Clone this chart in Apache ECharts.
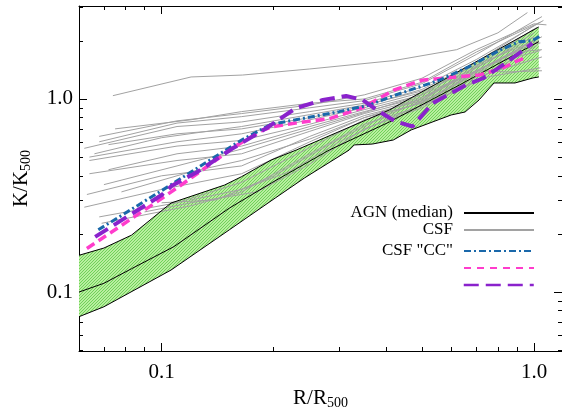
<!DOCTYPE html>
<html><head><meta charset="utf-8">
<script src="https://cdn.jsdelivr.net/npm/echarts@6/dist/echarts.min.js"></script>
<style>html,body{margin:0;padding:0;background:#fff}#c{width:562px;height:415px}</style>
</head><body><div id="c"></div>
<script>
// ---------- data (real values, R/R500 vs K/K500) ----------
const xTickMajor = [0.1, 1.0];
const xTickMinor = [0.07, 0.08, 0.09, 0.2, 0.3, 0.4, 0.5, 0.6, 0.7, 0.8, 0.9];
const yTickMajor = [0.1, 1.0];
const yTickMinor = [0.05, 0.06, 0.07, 0.08, 0.09, 0.2, 0.3, 0.4, 0.5, 0.6, 0.7, 0.8, 0.9, 2, 3];
const tickLabels = ['0.1', '1.0'];
const xRange = [0.06, 1.189];
const yRange = [0.0495, 3.03];

const agnUpper = [[0.06,0.155],[0.07,0.169],[0.083,0.197],[0.106,0.289],[0.1475,0.358],[0.164,0.396],[0.197,0.483],[0.23,0.544],[0.409,0.877],[0.649,1.44],[1.03,2.36]];
const agnMedian = [[0.06,0.100],[0.07,0.111],[0.083,0.132],[0.108,0.172],[0.152,0.272],[0.197,0.367],[0.282,0.544],[0.409,0.76],[0.63,1.18],[1.03,1.98]];
const agnLower = [[0.06,0.0745],[0.07,0.0839],[0.106,0.130],[0.152,0.210],[0.202,0.307],[0.242,0.390],[0.319,0.544],[0.329,0.578],[0.368,0.584],[0.419,0.613],[0.468,0.691],[0.599,0.826],[0.653,0.856],[0.712,0.988],[0.781,1.21],[0.889,1.21],[0.994,1.285],[1.03,1.30]];

const csfProfiles = [
  [[0.074,1.04],[0.12,1.30],[0.165,1.33],[0.25,1.43],[0.42,1.58],[0.62,1.80],[0.80,2.20],[0.96,2.80]],
  [[0.075,0.70],[0.12,0.78],[0.164,0.86],[0.25,0.95],[0.35,1.0],[0.5,1.22],[0.7,1.75],[1.04,2.5]],
  [[0.068,0.64],[0.11,0.77],[0.164,0.84],[0.25,0.93],[0.35,1.05],[0.5,1.28],[0.7,1.80],[1.0,2.45],[1.08,2.42]],
  [[0.068,0.60],[0.11,0.75],[0.164,0.81],[0.25,0.90],[0.35,0.98],[0.5,1.2],[0.7,1.70],[1.05,2.67]],
  [[0.062,0.555],[0.11,0.72],[0.164,0.76],[0.25,0.86],[0.35,0.95],[0.5,1.15],[0.7,1.6],[1.06,2.55]],
  [[0.072,0.58],[0.11,0.66],[0.164,0.70],[0.25,0.80],[0.35,0.92],[0.5,1.12],[0.75,1.65],[1.02,2.35]],
  [[0.066,0.52],[0.1,0.63],[0.164,0.72],[0.25,0.83],[0.35,0.93],[0.5,1.1],[0.7,1.5],[1.0,2.0]],
  [[0.064,0.50],[0.11,0.60],[0.164,0.66],[0.25,0.78],[0.35,0.90],[0.5,1.08],[0.75,1.55],[1.0,2.2]],
  [[0.064,0.48],[0.11,0.57],[0.164,0.61],[0.25,0.74],[0.35,0.88],[0.5,1.05],[0.7,1.4],[0.85,1.38],[1.05,1.40]],
  [[0.072,0.43],[0.11,0.52],[0.164,0.57],[0.25,0.72],[0.35,0.86],[0.5,1.02],[0.75,1.5],[1.04,1.78]],
  [[0.064,0.41],[0.11,0.48],[0.164,0.52],[0.25,0.68],[0.35,0.84],[0.5,1.0],[0.75,1.6],[1.0,2.3]],
  [[0.07,0.36],[0.11,0.45],[0.164,0.55],[0.25,0.70],[0.35,0.85],[0.5,1.05],[0.7,1.55],[1.0,2.4]],
  [[0.063,0.32],[0.1,0.40],[0.164,0.45],[0.25,0.64],[0.35,0.82],[0.5,0.98],[0.7,1.45],[1.0,2.1]],
  [[0.078,0.33],[0.12,0.42],[0.164,0.48],[0.25,0.62],[0.35,0.8],[0.5,1.0],[0.7,1.4],[0.9,1.75],[1.05,1.80]],
  [[0.062,0.275],[0.1,0.34],[0.164,0.41],[0.25,0.6],[0.35,0.8],[0.5,0.95],[0.7,1.35],[0.95,1.9],[1.04,1.95]],
  [[0.068,0.245],[0.11,0.29],[0.164,0.37],[0.25,0.56],[0.35,0.78],[0.5,0.96],[0.75,1.5],[1.03,2.0]],
  [[0.069,0.227],[0.12,0.28],[0.164,0.33],[0.25,0.52],[0.35,0.74],[0.5,0.92],[0.7,1.3],[1.05,1.65]],
  [[0.1,0.29],[0.14,0.30],[0.2,0.40],[0.3,0.62],[0.4,0.82],[0.55,1.05],[0.8,1.6],[1.05,2.1]],
  [[0.09,0.26],[0.12,0.29],[0.18,0.33],[0.25,0.46],[0.35,0.70],[0.5,0.90],[0.7,1.25],[1.02,1.9]],
  [[0.12,0.30],[0.164,0.34],[0.22,0.42],[0.3,0.6],[0.4,0.78],[0.55,1.0],[0.75,1.3],[1.04,1.45]]
];

const csfCC = [[0.0676,0.21],[0.1,0.335],[0.125,0.44],[0.164,0.613],[0.197,0.74],[0.229,0.78],[0.30,0.86],[0.361,0.93],[0.42,1.04],[0.556,1.25],[0.669,1.47],[0.806,1.78],[0.911,1.98],[0.988,2.0],[1.04,2.12]];
const pinkRun = [[0.063,0.168],[0.1,0.305],[0.1146,0.366],[0.125,0.412],[0.157,0.566],[0.187,0.69],[0.2,0.72],[0.229,0.75],[0.282,0.79],[0.346,0.90],[0.42,1.11],[0.50,1.25],[0.617,1.30],[0.712,1.33],[0.82,1.44],[0.893,1.56],[0.957,1.65]];
const purpleRun = [[0.0663,0.193],[0.1,0.318],[0.1065,0.355],[0.125,0.42],[0.154,0.55],[0.191,0.705],[0.229,0.895],[0.271,0.988],[0.313,1.036],[0.346,0.99],[0.384,0.86],[0.426,0.763],[0.472,0.72],[0.534,0.95],[0.656,1.18],[0.73,1.28],[0.85,1.56],[0.99,1.94]];

const legendNames = ['AGN (median)', 'CSF', 'CSF "CC"', ' ', '  '];

// ---------- build ----------
const lg = v => Math.log10(v);
const L = arr => arr.map(p => [lg(p[0]), lg(p[1])]);
const FONT = 'Liberation Serif';

// hatch pattern for AGN band
const cv = document.createElement('canvas');
cv.width = 3; cv.height = 3;
const g = cv.getContext('2d');
g.fillStyle = '#b8ef9f'; g.fillRect(0, 0, 3, 3);
g.fillStyle = '#70d05a';
for (let i = 0; i < 3; i++) g.fillRect(i, 2 - i, 1, 1);
const hatch = {image: cv, repeat: 'repeat'};

const bandPoly = L(agnUpper.concat(agnLower.slice().reverse()));

function axis(kind, pos, major, withLabel, showLine) {
  const isX = kind === 'x';
  const r = isX ? xRange : yRange;
  return {
    type: 'value', position: pos, min: lg(r[0]), max: lg(r[1]),
    axisLine: {show: showLine, onZero: false, lineStyle: {color: '#000', width: 1}},
    axisTick: {show: true, inside: true, length: major ? 8 : 4,
      customValues: (major ? (isX ? xTickMajor : yTickMajor) : (isX ? xTickMinor : yTickMinor)).map(lg),
      lineStyle: {color: '#000', width: 1}},
    axisLabel: withLabel ? {
      show: true, customValues: (isX ? xTickMajor : yTickMajor).map(lg),
      formatter: v => tickLabels[Math.round(v) + 1],
      fontFamily: FONT, fontSize: 21, color: '#000', margin: isX ? 11 : 6
    } : {show: false},
    splitLine: {show: false}
  };
}

const subRich = {sub: {fontFamily: FONT, fontSize: 14, color: '#000', padding: [9, 0, 0, 0], verticalAlign: 'top'}};
const xAxes = [
  axis('x', 'bottom', true, true, true),
  axis('x', 'bottom', false, false, false),
  axis('x', 'top', true, false, true),
  axis('x', 'top', false, false, false)
];
Object.assign(xAxes[0], {
  name: 'R/R{sub|500}', nameLocation: 'middle', nameGap: 36,
  nameTextStyle: {fontFamily: FONT, fontSize: 21, color: '#000', rich: subRich}
});
const yAxes = [
  axis('y', 'left', true, true, true),
  axis('y', 'left', false, false, false),
  axis('y', 'right', true, false, true),
  axis('y', 'right', false, false, false)
];
Object.assign(yAxes[0], {
  name: 'K/K{sub|500}', nameLocation: 'middle', nameGap: 46, nameRotate: 90,
  nameTextStyle: {fontFamily: FONT, fontSize: 21, color: '#000', rich: subRich}
});

const base = {type: 'line', xAxisIndex: 0, yAxisIndex: 0, symbol: 'none', silent: true, animation: false};

const series = [];
series.push({
  type: 'custom', name: 'band', xAxisIndex: 0, yAxisIndex: 0, silent: true, clip: true, z: 1,
  data: bandPoly,
  renderItem: (params, api) => {
    if (params.dataIndex !== 0) return null;
    return {type: 'polygon', shape: {points: bandPoly.map(p => api.coord(p))},
      style: {fill: hatch, stroke: null}};
  }
});
series.push(Object.assign({}, base, {name: 'AGNup', data: L(agnUpper), z: 3, lineStyle: {color: '#000', width: 1}}));
series.push(Object.assign({}, base, {name: 'AGNlo', data: L(agnLower), z: 3, lineStyle: {color: '#000', width: 1}}));
csfProfiles.forEach(p => series.push(Object.assign({}, base, {name: 'CSF', data: L(p), z: 2,
  lineStyle: {color: '#a2a2a2', width: 1}})));
series.push(Object.assign({}, base, {name: legendNames[0], data: L(agnMedian), z: 3, lineStyle: {color: '#000', width: 1}}));
series.push(Object.assign({}, base, {name: legendNames[3], data: L(pinkRun), z: 4,
  lineStyle: {color: '#ff3ccc', width: 3.5, type: [9, 5]}}));
series.push(Object.assign({}, base, {name: legendNames[2], data: L(csfCC), z: 5,
  lineStyle: {color: '#1a68aa', width: 3, type: [7, 3, 2, 3]}}));
series.push(Object.assign({}, base, {name: legendNames[4], data: L(purpleRun), z: 6,
  lineStyle: {color: '#8a22cc', width: 4, type: [15, 7]}}));

const legendStyles = [
  {color: '#000', width: 2, type: 'solid'},
  {color: '#a2a2a2', width: 2, type: 'solid'},
  {color: '#1a68aa', width: 2, type: [7, 3, 2, 3]},
  {color: '#ff3ccc', width: 2, type: [7, 6]},
  {color: '#8a22cc', width: 2.5, type: [15, 7]}
];
const legendTops = [204, 221, 242, 259, 276];
const hidden = {color: 'rgba(0,0,0,0)', borderColor: 'rgba(0,0,0,0)', borderWidth: 0, opacity: 0};
const legends = legendNames.map((n, i) => ({
  data: [{name: n, lineStyle: legendStyles[i], itemStyle: hidden}],
  right: 27, top: legendTops[i], padding: 0, align: 'right', orient: 'vertical',
  itemWidth: 70, itemHeight: 14, selectedMode: false,
  textStyle: {fontFamily: FONT, fontSize: 17, color: '#000', lineHeight: 18, padding: [0, 6, 0, 0]}
}));

const chart = echarts.init(document.getElementById('c'), null, {renderer: 'canvas'});
chart.setOption({
  animation: false,
  backgroundColor: '#fff',
  grid: {left: 79, right: -1, top: 6, bottom: 64, containLabel: false},
  xAxis: xAxes, yAxis: yAxes,
  legend: legends,
  series: series
});
</script></body></html>
